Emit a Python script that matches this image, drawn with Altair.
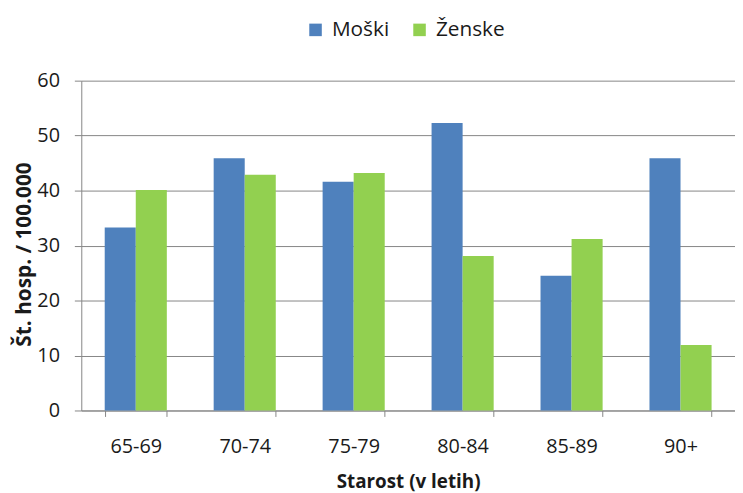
import altair as alt
import pandas as pd

categories = ["65-69", "70-74", "75-79", "80-84", "85-89", "90+"]
moski = [33.3, 45.9, 41.6, 52.3, 24.5, 45.9]
zenske = [40.1, 42.9, 43.2, 28.1, 31.2, 11.9]
series = ["Moški", "Ženske"]

rows = []
for c, m, z in zip(categories, moski, zenske):
    rows.append({"Starost": c, "Spol": series[0], "Vrednost": m})
    rows.append({"Starost": c, "Spol": series[1], "Vrednost": z})
df = pd.DataFrame(rows)

font = "Open Sans"
txt = "#1a1a1a"
grey = "#868686"

chart = alt.Chart(df).mark_bar().encode(
    x=alt.X("Starost:N", sort=categories,
            scale=alt.Scale(paddingInner=0.43, paddingOuter=0.215),
            axis=alt.Axis(title="Starost (v letih)", labelAngle=0, tickBand="extent",
                          labelFontSize=20, titleFontSize=19, titleFontWeight="bold",
                          labelPadding=20, titlePadding=17, labelColor=txt,
                          titleColor=txt, domainColor=grey, tickColor=grey,
                          tickSize=6)),
    xOffset=alt.XOffset("Spol:N", sort=series),
    y=alt.Y("Vrednost:Q", scale=alt.Scale(domain=[0, 60]),
            axis=alt.Axis(title="Št. hosp. / 100.000", values=[0, 10, 20, 30, 40, 50, 60],
                          labelFontSize=20, titleFontSize=21, titleFontWeight="bold",
                          labelPadding=15, labelColor=txt,
                          titleColor=txt, domainColor=grey, tickColor=grey,
                          gridColor=grey, tickSize=7,
                          titleX=-57, titleY=175, titleAngle=270,
                          titleAlign="center", titleBaseline="middle")),
    color=alt.Color("Spol:N", sort=series,
                    scale=alt.Scale(domain=series, range=["#4F81BD", "#92D050"]),
                    legend=alt.Legend(title=None, orient="none", direction="horizontal",
                                      legendX=226, legendY=-62, symbolType="square",
                                      symbolSize=160, labelFontSize=21, labelFont=font,
                                      labelColor=txt, columnPadding=20, labelOffset=6,
                                      symbolStrokeWidth=0, symbolOpacity=1)),
).properties(
    width=660, height=333,
    autosize=alt.AutoSizeParams(type="none"),
    padding={"left": 74, "top": 71, "right": 0, "bottom": 84},
).configure(font=font).configure_view(stroke=None)

chart.save("out.html", embed_options={"renderer": "svg", "actions": False})
